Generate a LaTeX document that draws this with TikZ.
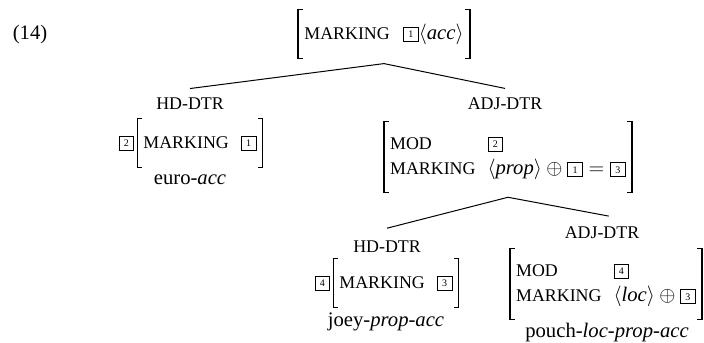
\RequirePackage{fix-cm}
\documentclass[tikz,border=0pt]{standalone}
\usepackage{fontspec}
\setmainfont{Liberation Serif}
\newfontfamily\capsf{Liberation Serif}
\newcommand\feat[1]{{\capsf\fontsize{13.4}{15}\selectfont #1}}
\newcommand\tagbox[1]{{\fboxsep=0pt\fboxrule=0.6pt\fbox{\makebox[10.6pt]{\rule[-1.2pt]{0pt}{10pt}\raisebox{1.2pt}{\fontsize{7.5}{8}\selectfont #1}}}}}
\newcommand\avmbrk[1]{%
  \draw[brk] ([xshift=3.8pt]#1.north west) -- (#1.north west) -- (#1.south west) -- ([xshift=3.8pt]#1.south west);
  \draw[brk] ([xshift=-3.8pt]#1.north east) -- (#1.north east) -- (#1.south east) -- ([xshift=-3.8pt]#1.south east);}
\renewcommand\arraystretch{1.05}
\begin{document}
\begin{tikzpicture}[x=0.75pt,y=-0.75pt,
  every node/.style={inner sep=0pt, font=\fontsize{15.5}{18}\selectfont},
  lbl/.style={font=\capsf\fontsize{13.4}{15}\selectfont},
  avm/.style={inner xsep=4.5pt, inner ysep=0pt},
  brk/.style={line width=1pt, line join=miter},
  branch/.style={line width=0.75pt}]
\useasboundingbox (0,0) rectangle (704,343);

\node (ex) at (30,35) {(14)};

% mother
\node[avm, minimum height=36pt] (top) at (384,34)
  {\feat{MARKING}\hspace{10pt}\tagbox{1}$\langle\textit{acc}\rangle$};
\avmbrk{top}

% head daughter
\node[lbl] (hd1) at (190,104) {HD-DTR};
\node[avm, minimum height=36pt] (avm1) at (200,143)
  {\begin{tabular}{@{}l@{\hspace{9pt}}l@{}}\feat{MARKING} & \tagbox{1}\end{tabular}};
\avmbrk{avm1}
\node[anchor=east] (t2) at ([xshift=-2pt]avm1.west) {\tagbox{2}};
\node (w1) at (190,180) {euro-\textit{acc}};

% adjunct daughter
\node[lbl] (adj1) at (505,104) {ADJ-DTR};
\node[avm, minimum height=53pt] (avm2) at (508,157)
  {\begin{tabular}{@{}l@{\hspace{9pt}}l@{}}\feat{MOD} & \tagbox{2}\\
   \feat{MARKING} & $\langle\textit{prop}\rangle\oplus\tagbox{1}=\tagbox{3}$\end{tabular}};
\avmbrk{avm2}

% joey
\node[lbl] (hd2) at (387,247) {HD-DTR};
\node[avm, minimum height=36pt] (avm3) at (396,283)
  {\begin{tabular}{@{}l@{\hspace{9pt}}l@{}}\feat{MARKING} & \tagbox{3}\end{tabular}};
\avmbrk{avm3}
\node[anchor=east] (t4) at ([xshift=-2pt]avm3.west) {\tagbox{4}};
\node (w3) at (386,322) {joey-\textit{prop-acc}};

% pouch
\node[lbl] (adj2) at (602,233) {ADJ-DTR};
\node[avm, minimum height=53pt] (avm4) at (606,284)
  {\begin{tabular}{@{}l@{\hspace{9pt}}l@{}}\feat{MOD} & \tagbox{4}\\
   \feat{MARKING} & $\langle\textit{loc}\rangle\oplus\tagbox{3}$\end{tabular}};
\avmbrk{avm4}
\node (w4) at (607,333) {pouch-\textit{loc-prop-acc}};

% branches
\draw[branch] ([yshift=-4pt]top.south) -- ([yshift=7pt]hd1.north);
\draw[branch] ([yshift=-4pt]top.south) -- ([yshift=7pt]adj1.north);
\draw[branch] ([yshift=-3.5pt]avm2.south) -- ([yshift=9.5pt]hd2.north);
\draw[branch] ([yshift=-3.5pt]avm2.south) -- ([xshift=5pt,yshift=8pt]adj2.north);
\end{tikzpicture}
\end{document}
